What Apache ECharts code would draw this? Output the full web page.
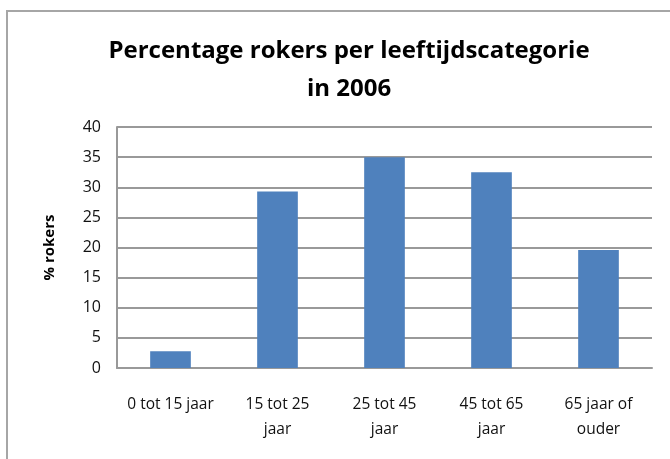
<!DOCTYPE html>
<html>
<head>
<meta charset="utf-8">
<script src="https://cdn.jsdelivr.net/npm/echarts@6/dist/echarts.min.js"></script>
<style>
  html, body { margin: 0; padding: 0; background: #fff; }
  #container { width: 670px; height: 459px; }
</style>
</head>
<body>
<div id="container"></div>
<script>
// data
const categories = ["0 tot 15 jaar", "15 tot 25\njaar", "25 tot 45\njaar", "45 tot 65\njaar", "65 jaar of\nouder"];
const rokers = [2.8, 29.3, 35.0, 32.5, 19.6];
const yTicks = [0, 40, 5]; // min, max, interval

var dom = document.getElementById('container');
var myChart = echarts.init(dom, null, { renderer: 'canvas' });

var option = {
    animation: false,
    title: {
        text: 'Percentage rokers per leeftijdscategorie\nin 2006',
        left: 344,
        top: 27,
        textAlign: 'center',
        textStyle: {
            fontFamily: 'Open Sans',
            fontWeight: 'bold',
            fontSize: 24,
            lineHeight: 38,
            color: '#000'
        }
    },
    graphic: [{
        type: 'rect',
        shape: { x: 7, y: 11, width: 700, height: 500 },
        style: { fill: null, stroke: '#a6a6a6', lineWidth: 2 }
    }],
    grid: {
        left: 117,
        right: 18,
        top: 127,
        bottom: 91
    },
    xAxis: {
        type: 'category',
        data: categories,
        axisTick: { show: false },
        axisLine: { lineStyle: { color: '#999', width: 2 } },
        axisLabel: {
            interval: 0,
            margin: 24,
            fontFamily: 'Open Sans',
            fontSize: 15.5,
            lineHeight: 25,
            color: '#111'
        }
    },
    yAxis: {
        type: 'value',
        min: yTicks[0],
        max: yTicks[1],
        interval: yTicks[2],
        name: '% rokers',
        nameLocation: 'middle',
        nameGap: 60,
        nameTextStyle: {
            fontFamily: 'Open Sans',
            fontWeight: 'bold',
            fontSize: 15,
            color: '#000'
        },
        axisLine: { show: true, lineStyle: { color: '#999', width: 2 } },
        axisTick: { show: false },
        axisLabel: {
            margin: 16,
            fontFamily: 'Open Sans',
            fontSize: 16,
            color: '#111'
        },
        splitLine: { lineStyle: { color: '#999', width: 2 } }
    },
    series: [{
        name: '% rokers',
        type: 'bar',
        barWidth: '38%',
        data: rokers,
        itemStyle: { color: '#4f81bd' }
    }]
};

myChart.setOption(option);
window.addEventListener('resize', myChart.resize);
</script>
</body>
</html>
